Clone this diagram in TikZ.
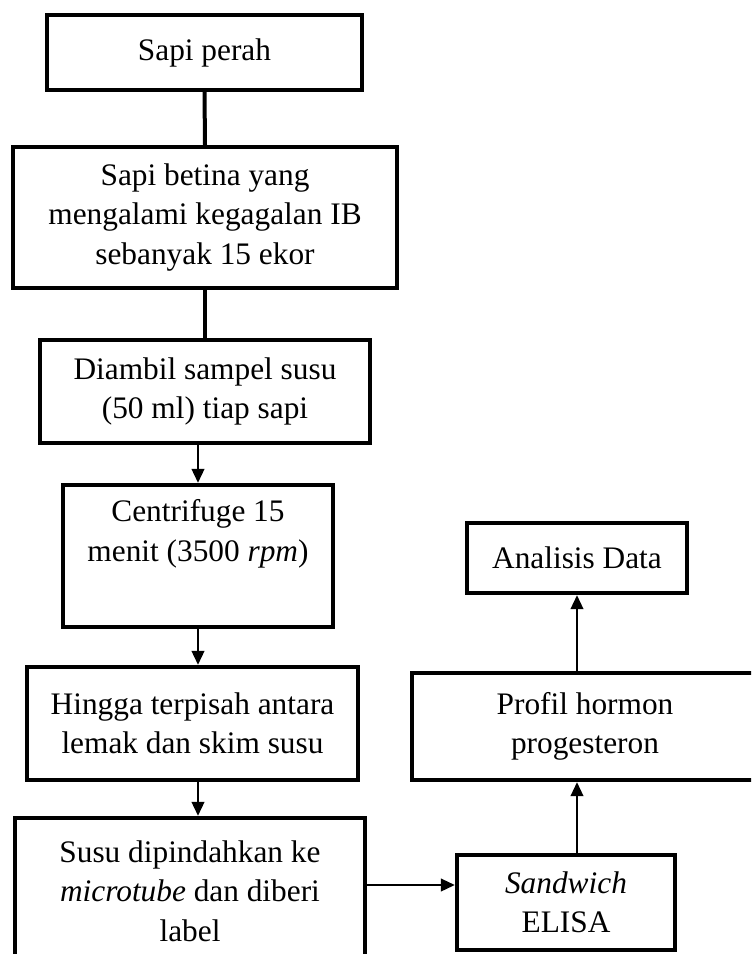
\documentclass[tikz,border=0pt]{standalone}
\usepackage{fontspec}
\setmainfont{Liberation Serif}
\usetikzlibrary{arrows.meta}
\tikzset{
  box/.style={draw=black, line width=3.3pt, fill=white, rectangle, align=center, inner sep=0pt,
    font=\fontsize{23.5}{29.5}\selectfont},
  sz/.style 2 args={minimum width=#1*0.75pt, minimum height=#2*0.75pt},
  thickline/.style={line width=3pt},
  arr/.style={line width=1.6pt, -{Triangle[length=10.5pt, width=9.5pt]}},
}
\begin{document}
\begin{tikzpicture}[x=0.75pt, y=-0.75pt]
\useasboundingbox (0,0) rectangle (751,954);
\fill[white] (0,0) rectangle (751,954);
\clip (0,0) rectangle (751,954);
\node[box, sz={315}{75}] (b1) at (204.5,52.5) {Sapi perah};
\node[box, sz={384}{141}] (b2) at (205,217.5) {Sapi betina yang\\ mengalami kegagalan IB\\ sebanyak 15 ekor};
\node[box, sz={330}{103}] (b3) at (205,391.5) {Diambil sampel susu\\ (50 ml) tiap sapi};
\node[box, sz={270}{142}] (b4) at (198,556) {Centrifuge 15\\ menit (3500 \textit{rpm})\\ \strut};
\node[box, sz={331}{113}] (b5) at (192.5,723.5) {Hingga terpisah antara\\ lemak dan skim susu};
\node[box, sz={350}{146}] (b6) at (190,891) {Susu dipindahkan ke\\ \textit{microtube} dan diberi\\ label};
\node[box, sz={220}{70}] (ad) at (577,558) {Analisis Data};
\node[box, sz={346}{107}] (pr) at (585,726.5) {Profil hormon\\ progesteron};
\node[box, sz={218}{95}] (sw) at (566,902.5) {\textit{Sandwich}\\ ELISA};
\coordinate (h) at (0,885);
\draw[thickline] (b1.south) -- (b2.north);
\draw[thickline] (b2.south) -- (b3.north);
\draw[arr] (b3.south -| b4.north) -- (b4.north);
\draw[arr] (b4.south) -- (b4.south |- b5.north);
\draw[arr] (b5.south -| b4.south) -- (b6.north -| b4.south);
\draw[arr] (b6.east |- h) -- (sw.west |- h);
\draw[arr] (sw.north -| ad.south) -- (pr.south -| ad.south);
\draw[arr] (pr.north -| ad.south) -- (ad.south);
\end{tikzpicture}
\end{document}
